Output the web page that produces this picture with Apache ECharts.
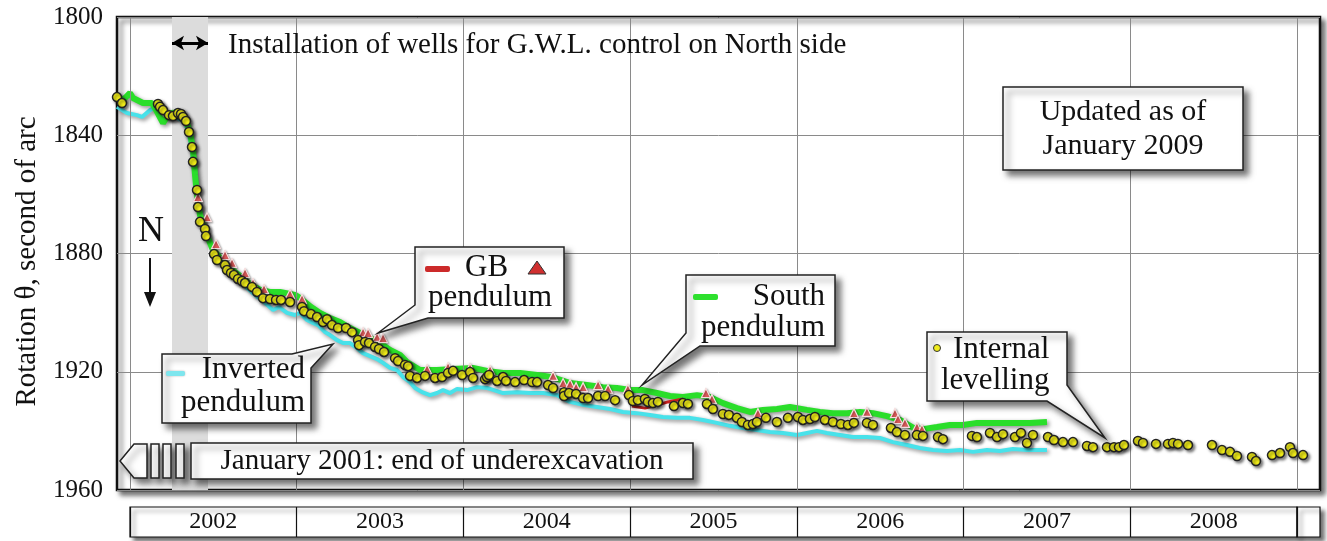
<!DOCTYPE html>
<html>
<head>
<meta charset="utf-8">
<script src="https://cdn.jsdelivr.net/npm/echarts@6/dist/echarts.min.js"></script>
<style>html,body{margin:0;padding:0;background:#fff;}#c{width:1327px;height:541px;}</style>
</head>
<body>
<div id="c"></div>
<script>
const yearLabels = ['2002','2003','2004','2005','2006','2007','2008'];
const yearLines = [2002,2003,2004,2005,2006,2007,2008,2009];
const yTicks = {min:1800, max:1960, step:40};
const xRange = [2001.922, 2009.139];
const wellsPeriod = [2002.252, 2002.468];
const arrowLevel = 1808.8;

const levelling = [[2001.922,1827.1],[2001.952,1829.1],[2002.168,1829.4],[2002.180,1830.4],[2002.198,1831.5],[2002.234,1833.2],[2002.258,1833.5],[2002.288,1832.5],[2002.306,1832.8],[2002.318,1833.8],[2002.336,1835.2],[2002.354,1838.9],[2002.372,1844.0],[2002.378,1849.0],[2002.402,1858.5],[2002.408,1864.3],[2002.420,1869.3],[2002.450,1871.7],[2002.456,1874.1],[2002.504,1880.2],[2002.522,1882.2],[2002.570,1883.9],[2002.582,1885.6],[2002.606,1886.6],[2002.624,1887.3],[2002.648,1888.6],[2002.672,1889.3],[2002.690,1890.0],[2002.732,1891.3],[2002.762,1893.0],[2002.798,1895.1],[2002.840,1895.4],[2002.876,1895.7],[2002.906,1895.7],[2002.960,1896.4],[2003.032,1898.1],[2003.044,1899.5],[2003.086,1900.5],[2003.122,1901.5],[2003.158,1903.2],[2003.182,1902.2],[2003.212,1904.2],[2003.248,1905.2],[2003.296,1905.2],[2003.332,1906.6],[2003.368,1909.3],[2003.374,1911.0],[2003.410,1909.9],[2003.434,1910.3],[2003.470,1911.6],[2003.494,1912.3],[2003.524,1913.3],[2003.590,1915.4],[2003.608,1916.4],[2003.650,1917.7],[2003.668,1918.1],[2003.680,1921.4],[2003.722,1922.1],[2003.770,1921.4],[2003.830,1922.1],[2003.872,1921.8],[2003.908,1920.4],[2003.938,1919.7],[2003.992,1921.1],[2004.040,1920.1],[2004.058,1922.1],[2004.130,1922.5],[2004.142,1921.8],[2004.154,1921.1],[2004.202,1923.1],[2004.238,1921.8],[2004.256,1923.1],[2004.310,1923.5],[2004.364,1922.8],[2004.412,1923.5],[2004.442,1923.5],[2004.508,1924.5],[2004.538,1925.5],[2004.604,1926.9],[2004.604,1928.2],[2004.634,1927.2],[2004.676,1927.5],[2004.718,1928.9],[2004.748,1928.9],[2004.808,1928.2],[2004.850,1928.2],[2004.910,1929.6],[2004.993,1927.9],[2005.017,1929.9],[2005.047,1929.6],[2005.089,1929.2],[2005.107,1930.2],[2005.137,1930.6],[2005.167,1930.2],[2005.263,1931.6],[2005.317,1930.6],[2005.347,1930.9],[2005.461,1930.9],[2005.497,1932.6],[2005.557,1934.3],[2005.593,1934.6],[2005.641,1935.6],[2005.671,1937.0],[2005.707,1938.0],[2005.737,1937.7],[2005.761,1937.0],[2005.815,1935.6],[2005.881,1937.0],[2005.947,1935.6],[2006.007,1935.3],[2006.037,1936.3],[2006.079,1936.0],[2006.109,1935.3],[2006.169,1936.3],[2006.217,1937.0],[2006.265,1937.7],[2006.307,1938.0],[2006.343,1937.3],[2006.421,1937.3],[2006.457,1938.0],[2006.565,1939.0],[2006.601,1940.4],[2006.649,1941.4],[2006.721,1941.4],[2006.757,1941.7],[2006.847,1942.1],[2006.877,1942.8],[2007.051,1941.7],[2007.081,1942.1],[2007.159,1940.7],[2007.201,1942.1],[2007.237,1941.1],[2007.309,1942.1],[2007.345,1940.7],[2007.381,1944.1],[2007.417,1941.4],[2007.507,1942.1],[2007.543,1943.1],[2007.597,1943.8],[2007.657,1943.8],[2007.741,1945.1],[2007.777,1945.5],[2007.861,1945.5],[2007.903,1945.5],[2007.933,1945.5],[2007.963,1944.8],[2008.047,1943.4],[2008.077,1944.1],[2008.155,1944.4],[2008.227,1944.4],[2008.257,1944.1],[2008.287,1944.4],[2008.347,1944.8],[2008.491,1944.8],[2008.551,1946.5],[2008.599,1947.1],[2008.641,1948.5],[2008.731,1948.8],[2008.755,1950.2],[2008.851,1948.2],[2008.899,1947.5],[2008.959,1945.5],[2008.977,1947.5],[2009.037,1948.2]];

const inverted = [[2001.922,1830.4],[2001.982,1832.5],[2002.042,1833.2],[2002.072,1833.8],[2002.120,1831.5],[2002.168,1830.1],[2002.210,1832.1],[2002.270,1833.8],[2002.330,1835.5],[2002.354,1839.9],[2002.372,1845.0],[2002.390,1853.4],[2002.408,1861.9],[2002.432,1869.3],[2002.468,1874.8],[2002.510,1880.8],[2002.570,1884.9],[2002.630,1888.3],[2002.690,1891.0],[2002.750,1894.0],[2002.810,1896.7],[2002.858,1899.1],[2002.894,1898.1],[2002.942,1900.1],[2002.990,1900.8],[2003.020,1900.1],[2003.062,1902.5],[2003.098,1903.5],[2003.128,1904.2],[2003.170,1906.6],[2003.200,1907.6],[2003.242,1909.3],[2003.278,1910.3],[2003.320,1910.3],[2003.362,1912.0],[2003.398,1913.7],[2003.440,1914.7],[2003.482,1915.7],[2003.518,1917.0],[2003.560,1918.7],[2003.602,1919.4],[2003.638,1921.8],[2003.680,1923.5],[2003.710,1925.5],[2003.752,1926.9],[2003.800,1927.9],[2003.842,1927.2],[2003.878,1926.2],[2003.920,1927.2],[2003.962,1925.8],[2004.022,1926.2],[2004.082,1925.2],[2004.142,1925.5],[2004.160,1925.8],[2004.238,1927.2],[2004.322,1926.9],[2004.400,1927.2],[2004.478,1927.2],[2004.562,1927.9],[2004.640,1930.2],[2004.718,1931.2],[2004.801,1931.9],[2004.880,1932.6],[2004.957,1933.6],[2005.041,1934.0],[2005.119,1934.6],[2005.197,1935.3],[2005.281,1935.6],[2005.359,1935.6],[2005.437,1936.3],[2005.521,1937.3],[2005.599,1938.3],[2005.677,1939.0],[2005.761,1939.7],[2005.839,1940.4],[2005.917,1940.7],[2006.001,1941.4],[2006.061,1940.7],[2006.121,1940.0],[2006.181,1940.7],[2006.259,1941.4],[2006.337,1942.1],[2006.421,1942.1],[2006.499,1942.4],[2006.577,1943.8],[2006.661,1944.8],[2006.739,1945.8],[2006.817,1946.5],[2006.901,1946.8],[2006.979,1946.5],[2007.057,1947.1],[2007.141,1946.5],[2007.219,1946.8],[2007.297,1946.1],[2007.381,1946.5],[2007.501,1946.5]];

const south = [[2001.922,1828.8],[2001.970,1827.4],[2002.000,1825.7],[2002.018,1827.4],[2002.078,1829.1],[2002.132,1829.1],[2002.162,1832.1],[2002.198,1835.9],[2002.222,1833.8],[2002.252,1832.5],[2002.300,1832.1],[2002.336,1834.8],[2002.360,1838.9],[2002.378,1845.0],[2002.390,1853.4],[2002.402,1860.2],[2002.420,1867.0],[2002.450,1872.1],[2002.492,1878.1],[2002.540,1881.5],[2002.600,1884.9],[2002.660,1887.6],[2002.720,1890.3],[2002.780,1892.3],[2002.840,1893.0],[2002.900,1893.0],[2002.990,1894.0],[2003.020,1895.1],[2003.080,1897.8],[2003.140,1900.1],[2003.200,1901.8],[2003.260,1903.2],[2003.320,1905.2],[2003.380,1906.9],[2003.440,1908.6],[2003.500,1910.3],[2003.560,1912.6],[2003.620,1914.3],[2003.662,1916.7],[2003.740,1919.4],[2003.842,1919.4],[2003.938,1919.1],[2004.058,1918.7],[2004.142,1919.7],[2004.238,1920.4],[2004.340,1920.4],[2004.442,1921.1],[2004.532,1921.8],[2004.640,1923.8],[2004.741,1924.5],[2004.837,1925.2],[2004.921,1925.5],[2004.999,1926.2],[2005.077,1926.2],[2005.161,1927.2],[2005.239,1928.2],[2005.317,1928.5],[2005.401,1927.9],[2005.479,1928.5],[2005.557,1930.6],[2005.641,1932.3],[2005.719,1933.6],[2005.797,1932.9],[2005.881,1932.6],[2005.959,1931.9],[2006.061,1932.9],[2006.139,1933.6],[2006.217,1934.0],[2006.301,1934.0],[2006.379,1933.6],[2006.457,1934.0],[2006.541,1935.0],[2006.619,1936.3],[2006.697,1938.9],[2006.757,1939.4],[2006.841,1938.7],[2006.919,1938.0],[2006.997,1938.0],[2007.081,1937.3],[2007.159,1937.3],[2007.237,1937.3],[2007.321,1937.3],[2007.399,1937.3],[2007.501,1937.0]];

const gbTriangles = [[2002.408,1860.9],[2002.462,1867.7],[2002.516,1876.8],[2002.570,1880.5],[2002.612,1883.2],[2002.690,1886.6],[2002.738,1890.0],[2002.804,1892.0],[2002.960,1893.7],[2003.032,1895.4],[2003.398,1906.6],[2003.428,1906.9],[2003.482,1908.2],[2003.518,1908.6],[2003.782,1919.1],[2003.908,1918.4],[2004.040,1918.7],[2004.160,1919.4],[2004.538,1921.4],[2004.598,1923.8],[2004.640,1924.1],[2004.676,1925.2],[2004.718,1925.2],[2004.808,1924.5],[2004.868,1925.8],[2004.987,1925.8],[2005.455,1927.2],[2005.491,1929.2],[2005.767,1934.0],[2006.343,1934.0],[2006.421,1933.6],[2006.589,1934.0],[2006.607,1936.0],[2006.649,1937.3],[2006.721,1938.7],[2006.751,1939.4]];

const gbLine = [[2005.011,1931.6],[2005.089,1932.3],[2005.149,1931.5],[2005.227,1930.2],[2005.317,1929.2]];

const FONT = '"Liberation Serif", "Times New Roman", serif';
const INK = '#111';
const boxShadow = {shadowBlur:6, shadowColor:'rgba(0,0,0,0.55)', shadowOffsetX:5, shadowOffsetY:5};
const boxStyle = Object.assign({fill:'#fff', stroke:'#222', lineWidth:1.5}, boxShadow);

function txt(x, y, text, size, align) {
  return {type:'text', z:100, style:{x:x, y:y, text:text, fontSize:size, fontFamily:FONT, fill:INK, align:align||'left', verticalAlign:'middle'}};
}
function poly(points, style, z) {
  return {type:'polygon', z:z||90, shape:{points:points}, style:style};
}
function rect(x, y, w, h, style, z, r) {
  return {type:'rect', z:z||90, shape:{x:x, y:y, width:w, height:h, r:r||0}, style:style};
}

const graphics = [
  txt(228, 45, 'Installation of wells for G.W.L. control on North side', 29),
  rect(1003, 87, 240, 83, boxStyle),
  txt(1123, 112, 'Updated as of', 30, 'center'),
  txt(1123, 146, 'January 2009', 30, 'center'),
  txt(151, 232, 'N', 36, 'center'),
  {type:'line', z:100, shape:{x1:150, y1:258, x2:150, y2:296}, style:{stroke:'#111', lineWidth:2}},
  poly([[144,292],[156,292],[150,307]], {fill:'#111'}, 100),
  poly([[162,354],[292,354],[333,344],[311,368],[311,423],[162,423]], boxStyle),
  rect(166, 371, 19, 5, {fill:'#7ee6ee', shadowBlur:2, shadowColor:'rgba(0,0,0,0.3)'}, 95, 2),
  txt(305, 370, 'Inverted', 31, 'right'),
  txt(305, 403, 'pendulum', 31, 'right'),
  poly([[415,247],[564,247],[564,318],[428,318],[378,333],[415,305]], boxStyle),
  rect(425, 266, 25, 6, {fill:'#cc2a2a'}, 95, 2),
  txt(465, 268, 'GB', 31, 'left'),
  poly([[528,274],[546,274],[537,261]], {fill:'#d03030', stroke:'#333', lineWidth:1}, 95),
  txt(490, 298, 'pendulum', 31, 'center'),
  poly([[686,275],[835,275],[835,346],[700,346],[642,385],[686,333]], boxStyle),
  rect(693, 294, 25, 6, {fill:'#2ee02e'}, 95, 2),
  txt(825, 297, 'South', 31, 'right'),
  txt(825, 328, 'pendulum', 31, 'right'),
  poly([[927,332],[1067,332],[1067,385],[1105,438],[1047,401],[927,401]], boxStyle),
  {type:'circle', z:95, shape:{cx:937, cy:348, r:3.5}, style:{fill:'#f0ec1c', stroke:'#333', lineWidth:1}},
  txt(953, 350, 'Internal', 31, 'left'),
  txt(941, 381, 'levelling', 31, 'left'),
  poly([[120,461],[134,444],[147,444],[147,478],[134,478]], boxStyle),
  rect(151, 444, 8, 34, boxStyle),
  rect(163, 444, 8, 34, boxStyle),
  rect(176, 444, 8, 34, boxStyle),
  rect(191, 443, 502, 36, boxStyle),
  txt(442, 461, 'January 2001: end of underexcavation', 29, 'center')
];

const chart = echarts.init(document.getElementById('c'), null, {renderer:'canvas'});
chart.setOption({
  animation:false,
  backgroundColor:'#fff',
  grid:[
    {left:117, top:17, width:1203, height:473, show:true, backgroundColor:'#fff', borderColor:'#111', borderWidth:2.5, shadowColor:'rgba(0,0,0,0.55)', shadowBlur:5, shadowOffsetX:4, shadowOffsetY:4},
    {left:130, top:507, width:1167, height:30, show:true, backgroundColor:'#fff', borderColor:'#111', borderWidth:1.2, shadowColor:'rgba(0,0,0,0.55)', shadowBlur:4, shadowOffsetX:4, shadowOffsetY:4},
    {left:1297, top:507, width:23, height:30, show:true, backgroundColor:'#fff', borderColor:'#111', borderWidth:1.2, shadowColor:'rgba(0,0,0,0.55)', shadowBlur:4, shadowOffsetX:4, shadowOffsetY:4}
  ],
  xAxis:[
    {gridIndex:0, type:'value', min:xRange[0], max:xRange[1], show:false},
    {gridIndex:1, type:'category', data:yearLabels, boundaryGap:true, axisLine:{show:false}, axisTick:{show:false},
      splitLine:{show:true, lineStyle:{color:'#111', width:1.2}},
      axisLabel:{inside:true, margin:15, verticalAlign:'middle', fontSize:24, fontFamily:FONT, color:INK}},
    {gridIndex:2, type:'value', show:false}
  ],
  yAxis:[
    {gridIndex:0, type:'value', inverse:true, min:yTicks.min, max:yTicks.max, interval:yTicks.step,
      axisLine:{show:false}, axisTick:{show:false},
      splitLine:{show:true, lineStyle:{color:'#8a8a8a', width:1}},
      axisLabel:{fontSize:25, fontFamily:FONT, color:INK, margin:14, formatter:function(v){return String(v);}},
      name:'Rotation θ, second of arc', nameLocation:'middle', nameGap:74,
      nameTextStyle:{fontSize:29, fontFamily:FONT, color:INK, padding:[0,0,0,-16]}},
    {gridIndex:1, type:'value', show:false},
    {gridIndex:2, type:'value', show:false}
  ],
  graphic:graphics,
  series:[
    {type:'line', name:'bg', xAxisIndex:0, yAxisIndex:0, data:[[2005,1900]], showSymbol:false, symbolSize:0, lineStyle:{opacity:0}, z:1, silent:true,
      markArea:{silent:true, itemStyle:{color:'#dcdcdc'}, data:[[{xAxis:wellsPeriod[0]},{xAxis:wellsPeriod[1]}]]},
      markLine:{silent:true, symbol:'none', label:{show:false}, lineStyle:{color:'#8a8a8a', width:1, type:'solid'},
        data:yearLines.map(function(y){return {xAxis:y};})}},
    {type:'line', name:'Inverted pendulum', data:inverted, showSymbol:false, z:3, color:'#48e2ea',
      lineStyle:{width:4, color:'#48e2ea', shadowBlur:4, shadowColor:'rgba(0,0,0,0.45)', shadowOffsetX:2, shadowOffsetY:2}},
    {type:'line', name:'South pendulum', data:south, showSymbol:false, z:4, color:'#2ade2a',
      lineStyle:{width:6, color:'#2ade2a', shadowBlur:4, shadowColor:'rgba(0,0,0,0.45)', shadowOffsetX:2, shadowOffsetY:2}},
    {type:'line', name:'GB pendulum', data:gbLine, showSymbol:false, z:5, color:'#c82020',
      lineStyle:{width:3, color:'#c82020'}},
    {type:'scatter', name:'GB pendulum points', data:gbTriangles, symbol:'triangle', symbolSize:9, z:6,
      itemStyle:{opacity:1, color:'#dc5a5a', borderColor:'#f6dede', borderWidth:1.2, shadowBlur:2, shadowColor:'rgba(0,0,0,0.35)', shadowOffsetX:1, shadowOffsetY:1}},
    {type:'scatter', name:'Internal levelling', data:levelling, symbol:'circle', symbolSize:9, z:7,
      itemStyle:{opacity:1, color:'#f4f01a', borderColor:'#222', borderWidth:1.5, shadowBlur:3, shadowColor:'rgba(0,0,0,0.5)', shadowOffsetX:2, shadowOffsetY:2}},
    {type:'line', name:'wells arrow', data:[[2005,1900]], showSymbol:false, symbolSize:0, lineStyle:{opacity:0}, z:8, silent:true,
      markLine:{silent:true, symbol:['arrow','arrow'], symbolSize:[11,12], label:{show:false}, lineStyle:{color:'#000', width:3, type:'solid'},
        data:[[{coord:[wellsPeriod[0], arrowLevel]},{coord:[wellsPeriod[1], arrowLevel]}]]}}
  ]
});
</script>
</body>
</html>
